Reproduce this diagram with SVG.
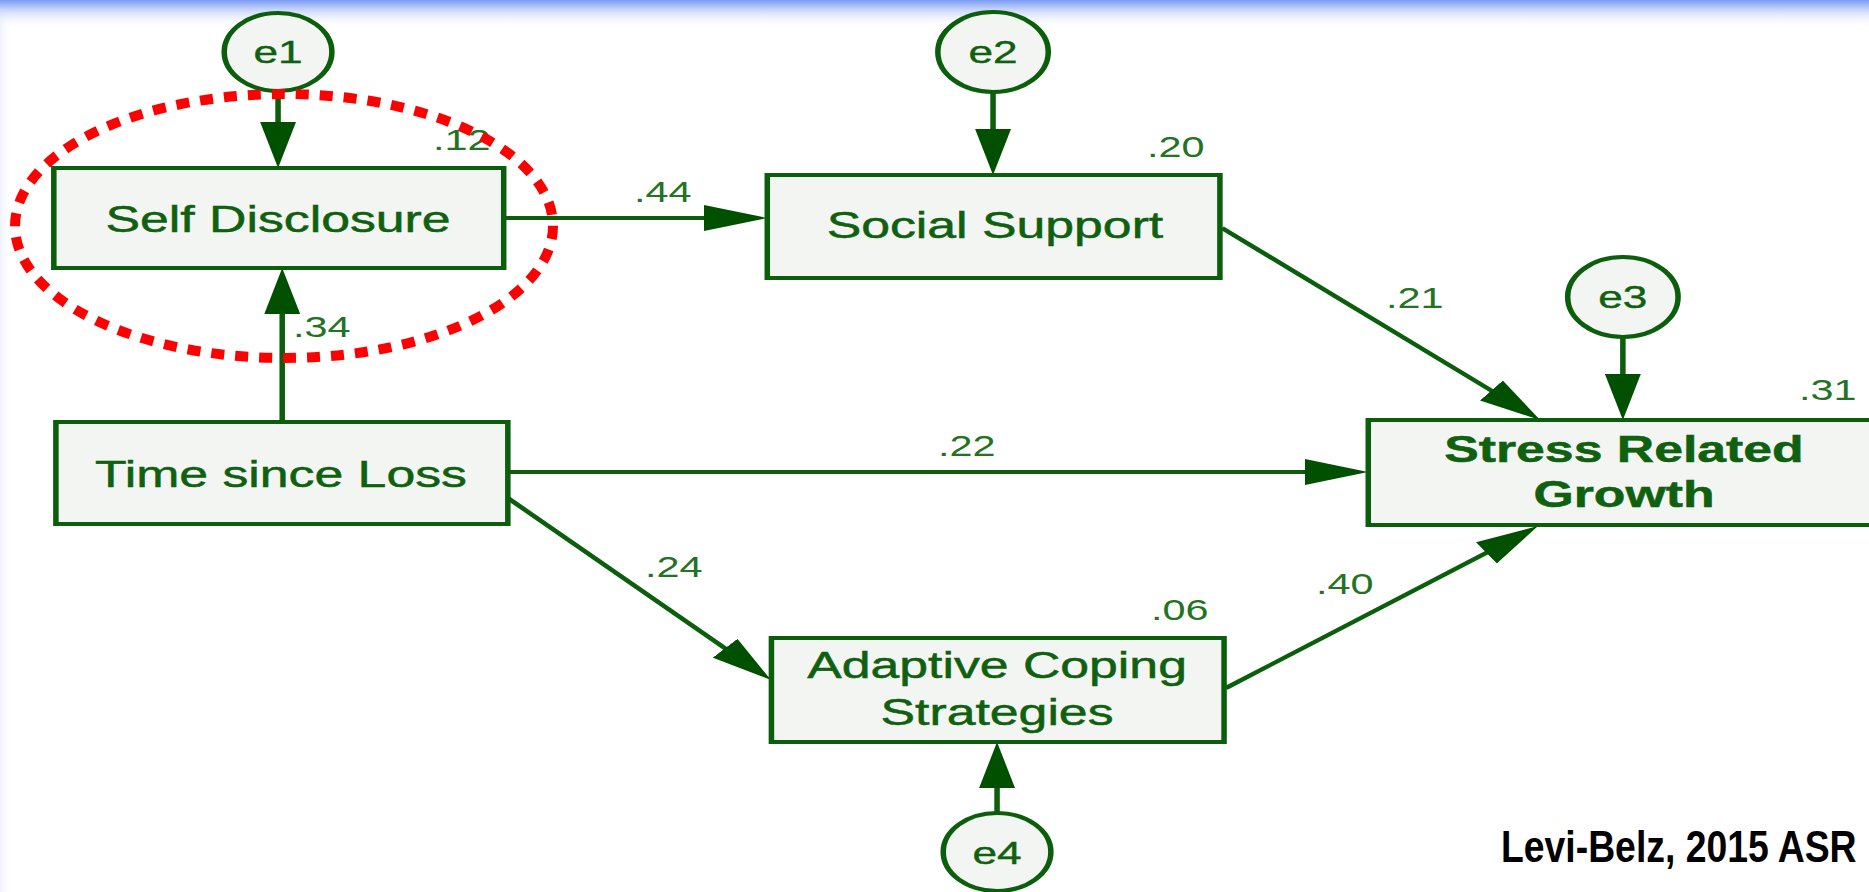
<svg xmlns="http://www.w3.org/2000/svg" width="1869" height="892" viewBox="0 0 1869 892">
<defs>
<linearGradient id="topband" x1="0" y1="0" x2="0" y2="1">
<stop offset="0" stop-color="#7b9cf4"/>
<stop offset="0.35" stop-color="#c9d6fb"/>
<stop offset="1" stop-color="#ffffff" stop-opacity="0"/>
</linearGradient>
<linearGradient id="leftband" x1="0" y1="0" x2="1" y2="0">
<stop offset="0" stop-color="#eef2ff"/>
<stop offset="1" stop-color="#ffffff" stop-opacity="0"/>
</linearGradient>
<marker id="arr" markerUnits="userSpaceOnUse" markerWidth="46" markerHeight="26" refX="38" refY="13" orient="auto">
<path d="M0,0 L46,13 L0,26 z" fill="#005000"/>
</marker>
<style>
.box{fill:#f3f5f3;stroke:#0b5e0b;stroke-width:4}
.err{fill:#f3f5f3;stroke:#0b5e0b;stroke-width:4}
.lbl{font-family:"Liberation Sans",Arial,sans-serif;font-size:37.5px;fill:#0f600f;stroke:#0f600f;stroke-width:0.5;text-anchor:middle}
.bold{font-weight:bold}
.elbl{font-family:"Liberation Sans",Arial,sans-serif;font-size:32px;fill:#0f600f;stroke:#0f600f;stroke-width:0.4;text-anchor:middle}
.num{font-family:"Liberation Sans",Arial,sans-serif;font-size:30px;fill:#237323}
.con path{fill:none;stroke:#0b5e0b;stroke-width:4;marker-end:url(#arr)}
</style>
</defs>
<rect x="0" y="0" width="1869" height="892" fill="#ffffff"/>
<rect x="0" y="0" width="12" height="892" fill="url(#leftband)"/>
<rect x="0" y="0" width="1869" height="28" fill="url(#topband)"/>

<g transform="scale(1.38,1)">
<g id="connectors" class="con">
<path id="c-e1-sd" d="M201.5,91 V160"/>
<path id="c-tsl-sd" d="M204.5,422 V276"/>
<path id="c-sd-ss" d="M365,218 H548"/>
<path id="c-e2-ss" d="M719.6,92 V167"/>
<path id="c-ss-srg" d="M885.5,228 L1109.9,414.9"/>
<path id="c-e3-srg" d="M1176,337 V412"/>
<path id="c-tsl-srg" d="M368,472 H983.5"/>
<path id="c-tsl-acs" d="M368,498 L552.9,674.5"/>
<path id="c-acs-srg" d="M888.4,688 L1108,530.7"/>
<path id="c-e4-acs" d="M722.5,813 V750"/>
</g>

<g id="edge-labels">
<text class="num" x="313.8" y="150">.12</text>
<text class="num" x="212.3" y="337">.34</text>
<text class="num" x="459.4" y="202">.44</text>
<text class="num" x="831.2" y="157">.20</text>
<text class="num" x="1004.3" y="308">.21</text>
<text class="num" x="1303.6" y="400">.31</text>
<text class="num" x="679.7" y="456">.22</text>
<text class="num" x="467.4" y="577">.24</text>
<text class="num" x="834" y="620">.06</text>
<text class="num" x="953.6" y="594">.40</text>
</g>

<g id="e1"><ellipse class="err" cx="201.5" cy="52" rx="39" ry="39"/><text class="elbl" x="201.5" y="63">e1</text></g>
<g id="e2"><ellipse class="err" cx="719.6" cy="52" rx="40" ry="40"/><text class="elbl" x="719.6" y="63">e2</text></g>
<g id="e3"><ellipse class="err" cx="1176" cy="297" rx="40" ry="40"/><text class="elbl" x="1176" y="308">e3</text></g>
<g id="e4"><ellipse class="err" cx="722.5" cy="852" rx="39" ry="39"/><text class="elbl" x="722.5" y="864">e4</text></g>

<g id="self-disclosure"><rect class="box" x="39" y="168" width="326" height="100"/><text class="lbl" x="201.5" y="232">Self Disclosure</text></g>
<g id="social-support"><rect class="box" x="556" y="175" width="328" height="103"/><text class="lbl" x="721" y="238">Social Support</text></g>
<g id="time-since-loss"><rect class="box" x="40.5" y="422" width="327.5" height="102"/><text class="lbl" x="203.6" y="487">Time since Loss</text></g>
<g id="adaptive-coping"><rect class="box" x="559" y="638" width="328" height="104"/><text class="lbl" x="722.5" y="678">Adaptive Coping</text><text class="lbl" x="722.5" y="725">Strategies</text></g>
<g id="stress-related-growth"><rect class="box" x="991.5" y="420" width="400" height="105"/><text class="lbl bold" x="1176.8" y="462">Stress Related</text><text class="lbl bold" x="1176.8" y="507">Growth</text></g>
</g>

<g id="highlight">
<ellipse cx="284" cy="226" rx="269" ry="132" fill="none" stroke="#ff0000" stroke-width="10" stroke-dasharray="13 11"/>
</g>

<g id="citation">
<text transform="translate(1501,862) scale(0.83,1)" x="0" y="0" font-family="'Liberation Sans',Arial,sans-serif" font-weight="bold" font-size="45" fill="#000000">Levi-Belz, 2015 ASR</text>
</g>
</svg>
